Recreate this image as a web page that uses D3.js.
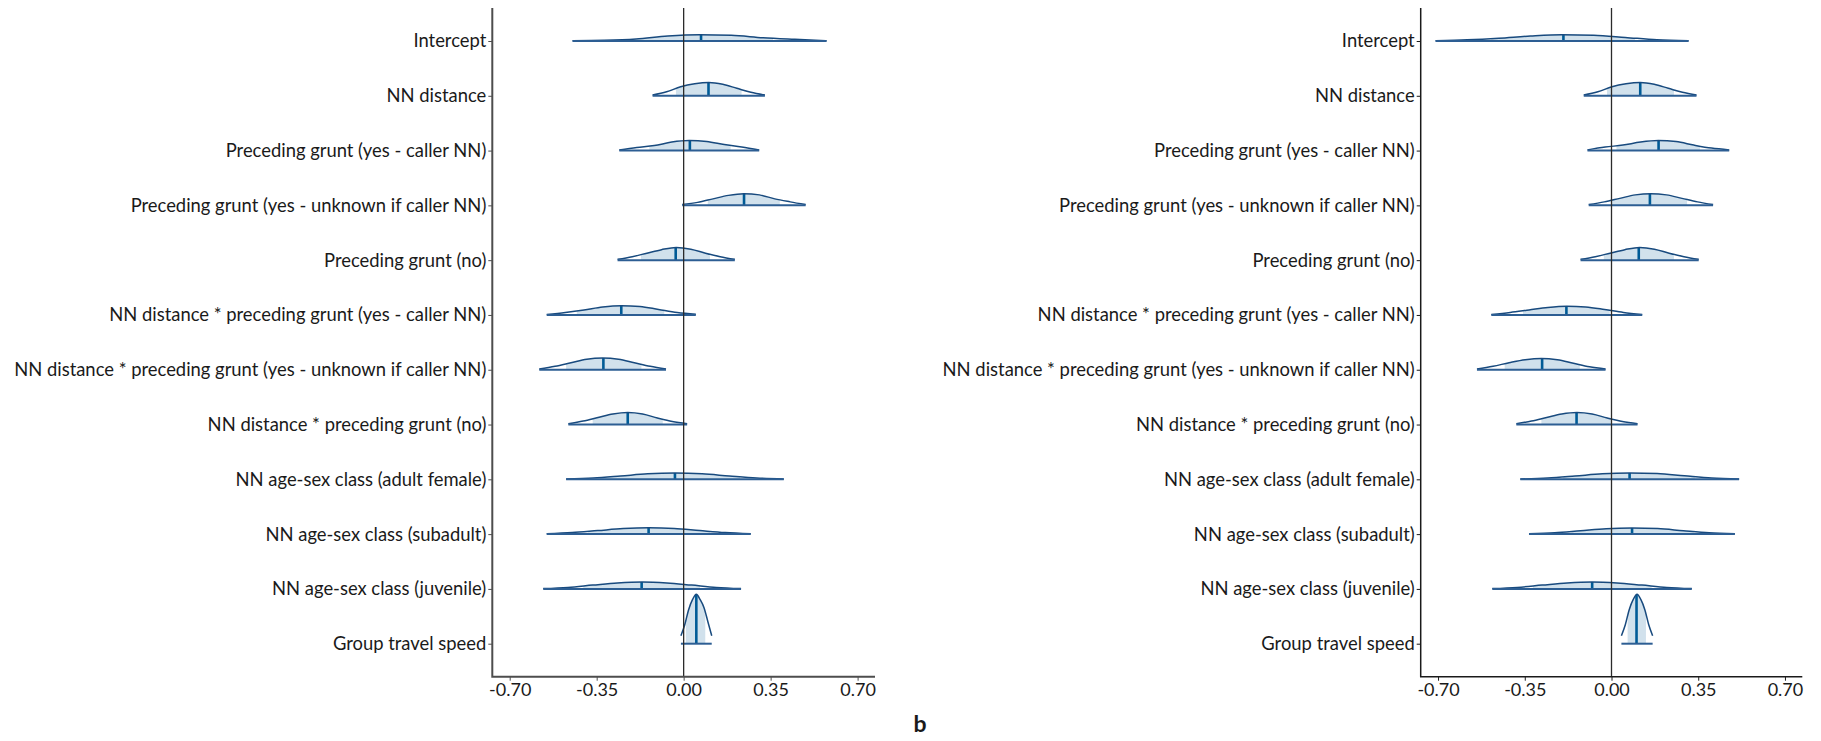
<!DOCTYPE html>
<html>
<head>
<meta charset="utf-8">
<script src="https://cdn.jsdelivr.net/npm/d3@7"></script>
<style>
  body { margin: 0; background: #fff; }
  svg text { font-family: Lato, "Open Sans", sans-serif; fill: #1a1a1a; }
</style>
</head>
<body>
<svg id="chart" width="1821" height="741"></svg>
<script>
// Model terms, top to bottom
const parameters = [
  "Intercept",
  "NN distance",
  "Preceding grunt (yes - caller NN)",
  "Preceding grunt (yes - unknown if caller NN)",
  "Preceding grunt (no)",
  "NN distance * preceding grunt (yes - caller NN)",
  "NN distance * preceding grunt (yes - unknown if caller NN)",
  "NN distance * preceding grunt (no)",
  "NN age-sex class (adult female)",
  "NN age-sex class (subadult)",
  "NN age-sex class (juvenile)",
  "Group travel speed"
];

const xTickValues = [-0.70, -0.35, 0, 0.35, 0.70];
const xTickLabels = ["-0.70", "-0.35", "0.00", "0.35", "0.70"];

// Left model: posterior range, inner interval and median per term
const leftLow     = [-0.447, -0.125, -0.259, -0.006, -0.266, -0.551, -0.581, -0.464, -0.473, -0.551, -0.565, -0.011];
const leftHigh    = [ 0.575,  0.327,  0.304,  0.491,  0.206,  0.049, -0.071,  0.014,  0.403,  0.270,  0.231,  0.113];
const leftInnerLo = [-0.225, -0.031, -0.138,  0.097, -0.172, -0.430, -0.473, -0.366, -0.337, -0.384, -0.404,  0.009];
const leftInnerHi = [ 0.360,  0.233,  0.189,  0.387,  0.106, -0.078, -0.170, -0.084,  0.227,  0.106,  0.066,  0.087];
const leftMedian  = [ 0.070,  0.100,  0.025,  0.243, -0.032, -0.251, -0.323, -0.225, -0.035, -0.141, -0.169,  0.051];
// Posterior density, sampled at 9 evenly spaced points from low to high
const leftDensity = [
  [0.12, 0.28, 0.80, 2.00, 2.52, 2.28, 1.32, 0.68, 0.12],
  [0.28, 1.60, 3.60, 4.80, 5.32, 4.60, 3.00, 1.40, 0.28],
  [0.20, 1.20, 2.00, 3.40, 4.00, 3.60, 2.40, 1.40, 0.20],
  [0.40, 1.20, 2.60, 4.00, 4.68, 4.20, 2.60, 1.40, 0.32],
  [0.32, 1.40, 2.80, 4.20, 5.08, 4.40, 2.80, 1.40, 0.32],
  [0.20, 1.00, 2.00, 3.20, 3.72, 3.40, 2.20, 1.00, 0.28],
  [0.32, 1.40, 2.80, 4.20, 4.68, 4.20, 2.80, 1.40, 0.32],
  [0.32, 1.40, 2.80, 4.20, 4.80, 4.20, 2.60, 1.20, 0.32],
  [0.12, 0.52, 1.32, 2.20, 2.52, 2.20, 1.32, 0.52, 0.12],
  [0.12, 0.60, 1.40, 2.20, 2.52, 2.24, 1.40, 0.60, 0.12],
  [0.12, 0.60, 1.52, 2.40, 2.80, 2.40, 1.52, 0.60, 0.12],
  [3.20, 7.60, 13.6, 17.6, 19.76, 17.6, 14.4, 8.80, 3.20]
];

// Right model
const rightLow     = [-0.710, -0.112, -0.097, -0.092, -0.125, -0.485, -0.543, -0.384, -0.368, -0.333, -0.481,  0.040];
const rightHigh    = [ 0.311,  0.343,  0.475,  0.410,  0.352,  0.124, -0.024,  0.105,  0.515,  0.498,  0.324,  0.166];
const rightInnerLo = [-0.485, -0.018,  0.020,  0.001, -0.031, -0.357, -0.431, -0.283, -0.195, -0.162, -0.317,  0.065];
const rightInnerHi = [ 0.095,  0.252,  0.357,  0.305,  0.252, -0.007, -0.128, -0.003,  0.336,  0.332,  0.162,  0.139];
const rightMedian  = [-0.194,  0.116,  0.190,  0.155,  0.110, -0.182, -0.280, -0.141,  0.073,  0.083, -0.078,  0.101];
const rightDensity = [
  [0.12, 0.48, 1.12, 2.00, 2.52, 2.32, 1.44, 0.48, 0.12],
  [0.28, 1.60, 3.60, 4.80, 5.32, 4.60, 3.00, 1.40, 0.28],
  [0.28, 1.40, 2.20, 3.40, 4.00, 3.60, 2.20, 1.00, 0.28],
  [0.32, 1.40, 2.80, 4.20, 4.68, 4.20, 2.80, 1.40, 0.32],
  [0.32, 1.40, 2.80, 4.20, 5.08, 4.40, 2.80, 1.40, 0.32],
  [0.20, 1.00, 2.00, 3.00, 3.48, 3.20, 2.20, 1.00, 0.20],
  [0.32, 1.40, 2.80, 4.00, 4.52, 4.00, 2.60, 1.20, 0.32],
  [0.32, 1.40, 2.80, 4.20, 4.80, 4.20, 2.60, 1.20, 0.32],
  [0.12, 0.52, 1.32, 2.20, 2.52, 2.32, 1.40, 0.52, 0.12],
  [0.12, 0.52, 1.32, 2.12, 2.40, 2.20, 1.32, 0.52, 0.12],
  [0.12, 0.60, 1.52, 2.40, 2.80, 2.40, 1.52, 0.60, 0.12],
  [3.20, 7.60, 13.6, 17.6, 19.76, 17.6, 13.6, 7.60, 3.20]
];

const svg = d3.select("#chart");
const plotTop = 8, plotBottom = 676.7;
const LABEL_FONT = 18.4;
const TICK_FONT = 18;

const yScale = d3.scalePoint().domain(parameters).range([41, 643.7]);
const heightScale = d3.scaleLinear().domain([0, 20]).range([0, 50]);

const panels = [
  { id: "left", left: 492.3, right: 875, axisColor: "#4d4d4d", axisWidth: 2,
    low: leftLow, high: leftHigh, innerLo: leftInnerLo, innerHi: leftInnerHi,
    median: leftMedian, density: leftDensity },
  { id: "right", left: 1420.7, right: 1802.3, axisColor: "#1a1a1a", axisWidth: 1.5,
    low: rightLow, high: rightHigh, innerLo: rightInnerLo, innerHi: rightInnerHi,
    median: rightMedian, density: rightDensity }
];

const defs = svg.append("defs");

panels.forEach(p => {
  const x = d3.scaleLinear().domain([-0.77, 0.77]).range([p.left, p.right]);
  const g = svg.append("g").attr("class", "panel-" + p.id);

  parameters.forEach((name, i) => {
    const y0 = yScale(name);
    const dens = p.density[i];
    const grid = d3.scaleLinear().domain([0, dens.length - 1]).range([p.low[i], p.high[i]]);
    const pts = dens.map((d, j) => [grid(j), d]);

    const area = d3.area()
      .x(d => x(d[0])).y0(y0).y1(d => y0 - heightScale(d[1]))
      .curve(d3.curveMonotoneX);
    const line = d3.line()
      .x(d => x(d[0])).y(d => y0 - heightScale(d[1]))
      .curve(d3.curveMonotoneX);

    const innerId = `inner-${p.id}-${i}`;
    defs.append("clipPath").attr("id", innerId)
      .append("rect")
      .attr("x", x(p.innerLo[i])).attr("y", y0 - 60)
      .attr("width", x(p.innerHi[i]) - x(p.innerLo[i])).attr("height", 61);

    const shapeId = `shape-${p.id}-${i}`;
    defs.append("clipPath").attr("id", shapeId)
      .append("path").attr("d", area(pts));

    const row = g.append("g");
    // outer tails: white under the curve
    row.append("path").attr("d", area(pts)).attr("fill", "#ffffff");
    // inner interval fill
    row.append("path").attr("d", area(pts))
      .attr("fill", "#d1e1ec")
      .attr("clip-path", `url(#${innerId})`);
    // median
    row.append("line")
      .attr("x1", x(p.median[i])).attr("x2", x(p.median[i]))
      .attr("y1", y0).attr("y2", y0 - 60)
      .attr("stroke", "#005b96").attr("stroke-width", 2.6)
      .attr("clip-path", `url(#${shapeId})`);
    // density outline
    row.append("path").attr("d", line(pts))
      .attr("fill", "none").attr("stroke", "#184a7e").attr("stroke-width", 1.5);
    // bottom line
    row.append("line")
      .attr("x1", x(p.low[i])).attr("x2", x(p.high[i]))
      .attr("y1", y0).attr("y2", y0)
      .attr("stroke", "#2d5e93").attr("stroke-width", 2);
  });

  // zero reference
  g.append("line")
    .attr("x1", x(0)).attr("x2", x(0)).attr("y1", plotTop).attr("y2", plotBottom)
    .attr("stroke", "#2b2b2b").attr("stroke-width", 1.3);

  // axes
  const yAxis = g.append("g").attr("transform", `translate(${p.left},0)`)
    .call(d3.axisLeft(yScale).tickSize(4).tickPadding(2).tickSizeOuter(0));
  yAxis.select(".domain").remove();
  yAxis.selectAll("text").style("font-size", LABEL_FONT + "px").attr("fill", "#1a1a1a");
  yAxis.selectAll("line").attr("stroke", p.axisColor);

  const xAxis = g.append("g").attr("transform", `translate(0,${plotBottom})`)
    .call(d3.axisBottom(x).tickValues(xTickValues)
      .tickFormat((d, k) => xTickLabels[k]).tickSize(4).tickPadding(3).tickSizeOuter(0));
  xAxis.select(".domain").remove();
  xAxis.selectAll("text").style("font-size", TICK_FONT + "px").attr("fill", "#1a1a1a");
  xAxis.selectAll("line").attr("stroke", p.axisColor);

  g.append("path")
    .attr("d", `M${p.left},${plotTop}V${plotBottom}H${p.right}`)
    .attr("fill", "none").attr("stroke", p.axisColor).attr("stroke-width", p.axisWidth);
});

svg.append("text")
  .attr("x", 920).attr("y", 732)
  .attr("text-anchor", "middle")
  .style("font-size", "23px").style("font-weight", "bold")
  .text("b");
</script>
</body>
</html>
